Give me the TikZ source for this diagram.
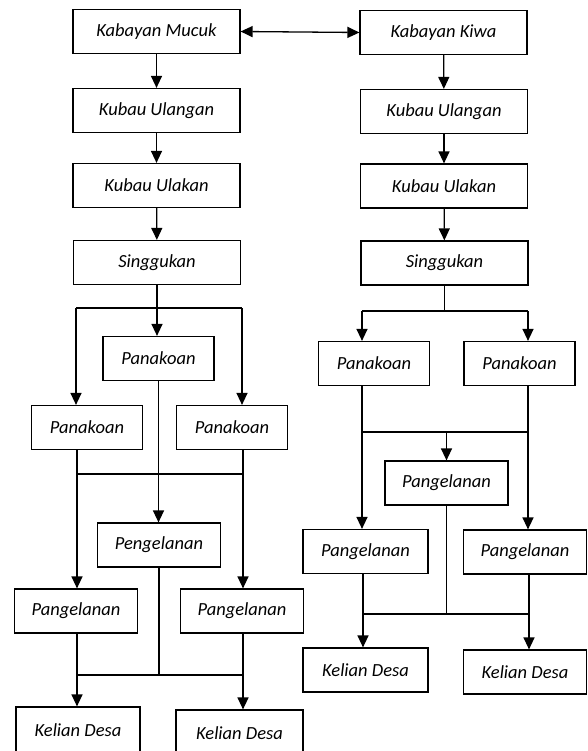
\documentclass[tikz,border=0pt]{standalone}
\usepackage{fontspec}
\setmainfont{Carlito}
\usetikzlibrary{arrows.meta}
\tikzset{
  box/.style={draw, line width=1.2pt, minimum height=44pt, inner sep=0pt,
    font=\fontsize{18.5}{22}\selectfont\itshape},
  wide/.style={box, minimum width=167pt},
  mid/.style={box, minimum width=111pt},
  low/.style={box, minimum width=123pt},
  link/.style={line width=1.3pt},
  arr/.style={link, -{Triangle[width=11pt,length=12pt]}}
}
\begin{document}
\begin{tikzpicture}[x=1pt, y=-1pt]
  \useasboundingbox (0, 0) rectangle (587, 751);
  \node[wide] (kmL) at (156.5, 31.5) {Kabayan Mucuk};
  \node[wide] (kuL) at (156.5, 110.5) {Kubau Ulangan};
  \node[wide] (kaL) at (156.5, 185.5) {Kubau Ulakan};
  \node[wide] (sgL) at (157, 262.5) {Singgukan};
  \node[mid] (pnM) at (158.5, 358.5) {Panakoan};
  \node[mid] (pnL) at (87, 427.5) {Panakoan};
  \node[mid] (pnR) at (232, 427.5) {Panakoan};
  \node[low] (pgM) at (159, 545) {Pengelanan};
  \node[low] (pgL) at (76, 611) {Pangelanan};
  \node[low] (pgR) at (242, 611) {Pangelanan};
  \node[low, minimum width=124pt, minimum height=46pt] (kdL) at (78, 730) {Kelian Desa};
  \node[low, minimum width=127pt, minimum height=46pt] (kdR) at (239.5, 733) {Kelian Desa};
  \node[wide] (kw) at (443.5, 32.5) {Kabayan Kiwa};
  \node[wide] (kuR) at (444, 111.5) {Kubau Ulangan};
  \node[wide] (kaR) at (444, 186) {Kubau Ulakan};
  \node[wide] (sgR) at (444.5, 263) {Singgukan};
  \node[mid] (paL) at (374, 363.5) {Panakoan};
  \node[mid] (paR) at (519.5, 363.5) {Panakoan};
  \node[low] (peM) at (446.5, 483) {Pangelanan};
  \node[low, minimum width=125pt] (peL) at (365.5, 551.5) {Pangelanan};
  \node[low] (peR) at (525, 552) {Pangelanan};
  \node[low, minimum width=125pt] (keL) at (365.5, 670) {Kelian Desa};
  \node[low] (keR) at (525, 672) {Kelian Desa};
  \coordinate (jL1w) at (76, 308);
  \coordinate (jL1e) at (242, 308);
  \coordinate (jL2w) at (77, 474);
  \coordinate (jL2e) at (243, 474);
  \coordinate (jL3w) at (77, 675);
  \coordinate (jL3e) at (243, 675);
  \coordinate (jR1w) at (362, 311);
  \coordinate (jR1e) at (528, 311);
  \coordinate (jR2w) at (362, 432);
  \coordinate (jR2e) at (528, 432);
  \coordinate (jR3w) at (363, 614);
  \coordinate (jR3e) at (529, 614);
  \draw[link, {Triangle[width=11pt,length=12pt]}-{Triangle[width=11pt,length=12pt]}] (kmL.east) -- (kw.west);
  \draw[arr] (kmL) -- (kuL);
  \draw[arr] (kuL) -- (kaL);
  \draw[arr] (kaL) -- (sgL);
  \draw[arr] (kw) -- (kuR);
  \draw[arr] (kuR) -- (kaR);
  \draw[arr] (kaR) -- (sgR);
  \draw[arr] (sgL.south) -- (sgL.south |- pnM.north);
  \draw[link] (jL1w) -- (jL1e);
  \draw[arr] (jL1w) -- (jL1w |- pnL.north);
  \draw[arr] (jL1e) -- (jL1e |- pnR.north);
  \draw[arr] (pnM.south) -- (pnM.south |- pgM.north);
  \draw[link] (jL2w) -- (jL2e);
  \draw[arr] (jL2w |- pnL.south) -- (jL2w |- pgL.north);
  \draw[arr] (jL2e |- pnR.south) -- (jL2e |- pgR.north);
  \draw[link] (pgM.south) -- (pgM.south |- jL3w);
  \draw[link] (jL3w) -- (jL3e);
  \draw[arr] (jL3w |- pgL.south) -- (jL3w |- kdL.north);
  \draw[arr] (jL3e |- pgR.south) -- (jL3e |- kdR.north);
  \draw[link] (sgR.south) -- (sgR.south |- jR1w);
  \draw[link] (jR1w) -- (jR1e);
  \draw[arr] (jR1w) -- (jR1w |- paL.north);
  \draw[arr] (jR1e) -- (jR1e |- paR.north);
  \draw[link] (jR2w |- paL.south) -- (jR2w);
  \draw[link] (jR2e |- paR.south) -- (jR2e);
  \draw[link] (jR2w) -- (jR2e);
  \draw[arr] (peM.north |- jR2w) -- (peM.north);
  \draw[arr] (jR2w) -- (jR2w |- peL.north);
  \draw[arr] (jR2e) -- (jR2e |- peR.north);
  \draw[link] (peM.south) -- (peM.south |- jR3w);
  \draw[link] (jR3w) -- (jR3e);
  \draw[arr] (jR3w |- peL.south) -- (jR3w |- keL.north);
  \draw[arr] (jR3e |- peR.south) -- (jR3e |- keR.north);
\end{tikzpicture}
\end{document}
